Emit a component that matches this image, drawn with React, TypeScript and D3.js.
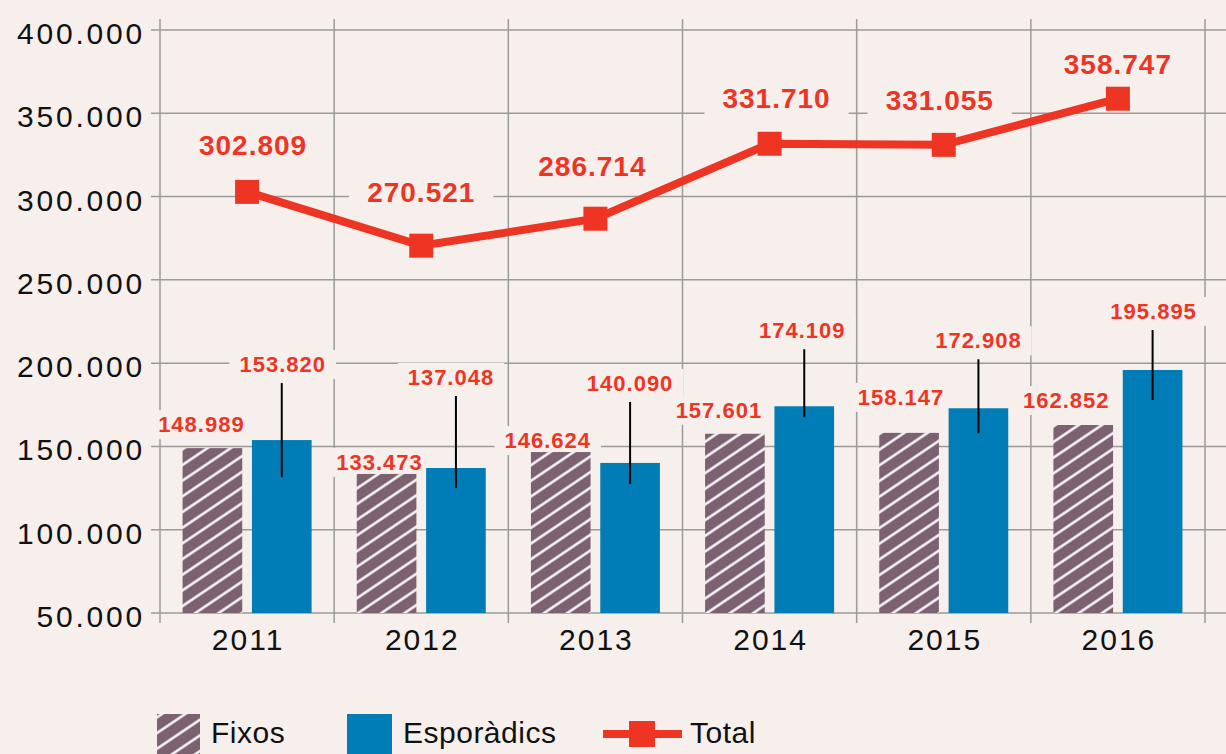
import React, { useEffect, useRef } from "react";
import * as d3 from "d3";

// data
const years = ["2011", "2012", "2013", "2014", "2015", "2016"];
const fixos = [148989, 133473, 146624, 157601, 158147, 162852];
const esporadics = [153820, 137048, 140090, 174109, 172908, 195895];
const total = [302809, 270521, 286714, 331710, 331055, 358747];
const yTicks = [50000, 100000, 150000, 200000, 250000, 300000, 350000, 400000];

// label nudges in px (layout only)
const fixosLabelDx = [-11, -7, -13, -16, -8, -17];
const fixosLabelDy = [-16, -4, -4, -16, -28, -17];
const espLabelDx = [1, -5, 0, -2, 0, 1];
const espLabelDy = [-68, -83, -72, -68, -60, -51];
const espLeaderEnd = [37, 20, 21, 11, 25, 30];
const totalLabelDx = [6, 0, -3, 7, -4, 0];
const totalLabelDy = [-37, -44, -43, -36, -35, -25];

const W = 1226;
const H = 754;
const BG = "#f6efec";
const GRID = "#9b9b9b";
const RED = "#ee3524";
const BLUE = "#007cb6";
const PURPLE = "#7c6171";
const FONT = "'Liberation Sans', Arial, Helvetica, sans-serif";

const fmt = d3
  .formatLocale({ decimal: ",", thousands: ".", grouping: [3], currency: ["", ""] })
  .format(",");

function App() {
  const svgRef = useRef(null);

  useEffect(() => {
    document.body.style.margin = "0";
    document.body.style.background = BG;
    document.body.style.overflow = "hidden";

    const svg = d3.select(svgRef.current);
    svg.selectAll("*").remove();

    const left = 160, right = 1205, top = 30, bottom = 613;

    const x = d3.scaleBand().domain(years).range([left, right]);
    const bw = x.bandwidth();
    const x1 = d3
      .scaleBand()
      .domain(["fixos", "esporadics"])
      .range([bw / 2 - 64.5, bw / 2 + 64.5])
      .paddingInner(0.14);
    const y = d3.scaleLinear().domain([50000, 400000]).range([bottom, top]);

    // hatch pattern
    const defs = svg.append("defs");
    const pat = defs
      .append("pattern")
      .attr("id", "hatch")
      .attr("patternUnits", "userSpaceOnUse")
      .attr("width", 10)
      .attr("height", 13)
      .attr("patternTransform", "rotate(-34)");
    pat.append("rect").attr("width", 10).attr("height", 13).attr("fill", PURPLE);
    pat
      .append("line")
      .attr("x1", -1).attr("x2", 11)
      .attr("y1", 6.5).attr("y2", 6.5)
      .attr("stroke", "#fff")
      .attr("stroke-width", 2.4);

    svg.append("rect").attr("width", W).attr("height", H).attr("fill", BG);

    // grid
    const grid = svg.append("g");
    grid
      .selectAll(".h")
      .data(yTicks)
      .join("line")
      .attr("class", "h")
      .attr("x1", 151).attr("x2", W)
      .attr("y1", d => y(d)).attr("y2", d => y(d))
      .attr("stroke", GRID)
      .attr("stroke-width", 1.5);
    grid
      .selectAll(".v")
      .data(d3.range(years.length + 1))
      .join("line")
      .attr("class", "v")
      .attr("x1", i => left + i * bw).attr("x2", i => left + i * bw)
      .attr("y1", 19).attr("y2", 623)
      .attr("stroke", GRID)
      .attr("stroke-width", 1.5);

    // y tick labels
    svg
      .append("g")
      .selectAll("text")
      .data(yTicks)
      .join("text")
      .attr("x", 145)
      .attr("y", d => y(d) + 14)
      .attr("text-anchor", "end")
      .attr("font-family", FONT)
      .attr("font-size", 30)
      .attr("letter-spacing", 2.8)
      .attr("fill", "#111")
      .text(d => fmt(d));

    // x labels
    svg
      .append("g")
      .selectAll("text")
      .data(years)
      .join("text")
      .attr("x", d => x(d) + bw / 2 + 1)
      .attr("y", 650)
      .attr("text-anchor", "middle")
      .attr("font-family", FONT)
      .attr("font-size", 30)
      .attr("letter-spacing", 2)
      .attr("fill", "#111")
      .text(d => d);

    const boxes = svg.append("g");
    const bars = svg.append("g");
    const lineG = svg.append("g");
    const leaders = svg.append("g");
    const labels = svg.append("g");

    // bars
    bars
      .selectAll(".fixos")
      .data(fixos)
      .join("rect")
      .attr("class", "fixos")
      .attr("x", (d, i) => x(years[i]) + x1("fixos"))
      .attr("width", x1.bandwidth())
      .attr("y", d => y(d))
      .attr("height", d => bottom - y(d))
      .attr("fill", "url(#hatch)");
    bars
      .selectAll(".esp")
      .data(esporadics)
      .join("rect")
      .attr("class", "esp")
      .attr("x", (d, i) => x(years[i]) + x1("esporadics"))
      .attr("width", x1.bandwidth())
      .attr("y", d => y(d))
      .attr("height", d => bottom - y(d))
      .attr("fill", BLUE);

    // total line
    const cx = i => x(years[i]) + bw / 2;
    const line = d3
      .line()
      .x((d, i) => cx(i))
      .y(d => y(d));
    lineG
      .append("path")
      .datum(total)
      .attr("d", line)
      .attr("fill", "none")
      .attr("stroke", RED)
      .attr("stroke-width", 8)
      .attr("stroke-linejoin", "miter");
    lineG
      .selectAll("rect")
      .data(total)
      .join("rect")
      .attr("x", (d, i) => cx(i) - 12)
      .attr("y", d => y(d) - 12)
      .attr("width", 24)
      .attr("height", 24)
      .attr("fill", RED);

    // value labels
    const espCx = i => x(years[i]) + x1("esporadics") + x1.bandwidth() / 2;
    const items = years.flatMap((yr, i) => [
      {
        x: x(yr) + x1("fixos") + x1.bandwidth() / 2 + fixosLabelDx[i],
        y: y(fixos[i]) + fixosLabelDy[i],
        text: fmt(fixos[i]), size: 22, px: 10, py: 4,
      },
      {
        x: espCx(i) + espLabelDx[i],
        y: y(esporadics[i]) + espLabelDy[i],
        text: fmt(esporadics[i]), size: 22, px: 10, py: 4,
      },
      {
        x: cx(i) + totalLabelDx[i],
        y: y(total[i]) + totalLabelDy[i],
        text: fmt(total[i]), size: 28, px: 18, py: 6,
      },
    ]);

    labels
      .selectAll("text")
      .data(items)
      .join("text")
      .attr("x", d => d.x)
      .attr("y", d => d.y)
      .attr("text-anchor", "middle")
      .attr("font-family", FONT)
      .attr("font-weight", "bold")
      .attr("font-size", d => d.size)
      .attr("letter-spacing", 1)
      .attr("fill", RED)
      .text(d => d.text)
      .each(function (d) {
        const b = this.getBBox();
        boxes
          .append("rect")
          .attr("x", b.x - d.px)
          .attr("y", b.y + 2 - d.py)
          .attr("width", b.width + 2 * d.px)
          .attr("height", b.height - 4 + 2 * d.py)
          .attr("fill", BG);
      });

    // leader lines for esporàdics
    leaders
      .selectAll("line")
      .data(esporadics)
      .join("line")
      .attr("x1", (d, i) => espCx(i)).attr("x2", (d, i) => espCx(i))
      .attr("y1", (d, i) => y(d) + espLabelDy[i] + 11)
      .attr("y2", (d, i) => y(d) + espLeaderEnd[i])
      .attr("stroke", "#000")
      .attr("stroke-width", 2);

    // legend
    const legend = svg.append("g").attr("font-family", FONT).attr("font-size", 30).attr("fill", "#111");
    legend.append("rect").attr("x", 157).attr("y", 714).attr("width", 43).attr("height", 45).attr("fill", "url(#hatch)");
    legend.append("text").attr("x", 211).attr("y", 743).attr("letter-spacing", 0.5).text("Fixos");
    legend.append("rect").attr("x", 347).attr("y", 714).attr("width", 45).attr("height", 45).attr("fill", BLUE);
    legend.append("text").attr("x", 403).attr("y", 743).attr("letter-spacing", 0.5).text("Esporàdics");
    legend.append("line").attr("x1", 603).attr("x2", 682).attr("y1", 734).attr("y2", 734).attr("stroke", RED).attr("stroke-width", 8);
    legend.append("rect").attr("x", 629).attr("y", 721).attr("width", 26).attr("height", 26).attr("fill", RED);
    legend.append("text").attr("x", 690).attr("y", 743).attr("letter-spacing", 0.5).text("Total");
  }, []);

  return <svg ref={svgRef} width={W} height={H} style={{ display: "block" }} />;
}

export default App;
